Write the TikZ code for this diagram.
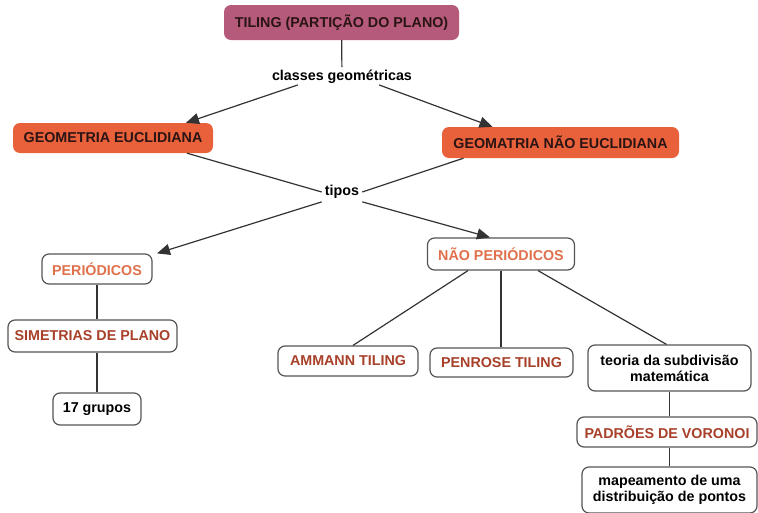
\documentclass[tikz,border=0pt]{standalone}
\usepackage{fontspec}
\setmainfont{Liberation Sans}
\usetikzlibrary{arrows.meta}

\definecolor{rootfill}{HTML}{B55A7A}
\definecolor{classfill}{HTML}{E8613B}
\definecolor{darktext}{HTML}{2A1414}
\definecolor{orangetext}{HTML}{E0714C}
\definecolor{browntext}{HTML}{A8402A}
\definecolor{boxline}{HTML}{555555}
\definecolor{linkgray}{HTML}{333333}

\tikzset{
  cmfont/.style={font=\bfseries\fontsize{14.3}{16}\selectfont},
  concept/.style={cmfont, draw=boxline, line width=1.2pt, rounded corners=7pt,
    fill=white, inner sep=0pt, align=center, text=black},
  colored/.style={cmfont, rounded corners=7pt, inner sep=0pt, align=center, text=darktext},
  linklabel/.style={cmfont, inner sep=3pt, text=black},
  link/.style={draw=linkgray, line width=1.2pt},
  arrowlink/.style={link, -{Triangle[length=13pt,width=11pt]}},
}

\begin{document}
\begin{tikzpicture}[x=1pt,y=-1pt]
\useasboundingbox (0,0) rectangle (758,512);

% top-level concept
\node[colored, fill=rootfill, minimum width=235pt, minimum height=35pt] (root) at (341.5,22.5) {TILING (PARTIÇÃO DO PLANO)};
\node[linklabel] (classes) at (342,77) {classes geométricas};

% geometry classes
\node[colored, fill=classfill, minimum width=200pt, minimum height=30pt] (eucl) at (113,138) {GEOMETRIA EUCLIDIANA};
\node[colored, fill=classfill, minimum width=237pt, minimum height=31pt] (neucl) at (560.5,142.5) {GEOMATRIA NÃO EUCLIDIANA};
\node[linklabel] (tipos) at (342,192) {tipos};

% periodic branch
\node[concept, text=orangetext, minimum width=110pt, minimum height=30pt] (per) at (97,269) {PERIÓDICOS};
\node[concept, text=browntext, minimum width=169pt, minimum height=32pt] (sim) at (92.5,336) {SIMETRIAS DE PLANO};
\node[concept, minimum width=88pt, minimum height=32pt] (grupos) at (97,409) {17 grupos};

% non-periodic branch
\node[concept, text=orangetext, minimum width=147pt, minimum height=32pt] (nper) at (501,254) {NÃO PERIÓDICOS};
\node[concept, text=browntext, minimum width=140pt, minimum height=30pt] (ammann) at (348,361) {AMMANN TILING};
\node[concept, text=browntext, minimum width=143pt, minimum height=29pt] (penrose) at (501.5,362.5) {PENROSE TILING};
\node[concept, minimum width=163pt, minimum height=46pt] (teoria) at (669.5,368) {teoria da subdivisão\\matemática};
\node[concept, text=browntext, minimum width=180pt, minimum height=30pt] (voronoi) at (667,432) {PADRÕES DE VORONOI};
\node[concept, minimum width=175pt, minimum height=46pt] (mapa) at (669.5,490) {mapeamento de uma\\distribuição de pontos};

% connectors
\draw[link] (root) -- (classes);
\draw[arrowlink] (classes.south west) ++(29pt,2pt) coordinate (c1) (c1) -- ([xshift=73pt]eucl.north);
\draw[arrowlink] (classes.south east) ++(-36pt,2pt) coordinate (c2) (c2) -- ([xshift=-68pt]neucl.north);
\draw[link] ([xshift=74pt]eucl.south) -- (tipos.west);
\draw[link] ([xshift=-97pt]neucl.south) -- (tipos.east);
\draw[arrowlink] (tipos.south west) -- ([xshift=60pt]per.north);
\draw[arrowlink] (tipos.south east) -- ([xshift=-11pt]nper.north);
\draw[link] (per) -- (per.south |- sim.north);
\draw[link] (sim.south -| grupos.north) -- (grupos);
\draw[link] ([xshift=-33pt]nper.south) -- ([xshift=5pt]ammann.north);
\draw[link] (nper.south) -- (nper.south |- penrose.north);
\draw[link] ([xshift=37pt]nper.south) -- ([xshift=-3pt]teoria.north);
\draw[link] (teoria) -- (teoria.south |- voronoi.north);
\draw[link] (teoria.south |- voronoi.south) -- (mapa);
\end{tikzpicture}
\end{document}
